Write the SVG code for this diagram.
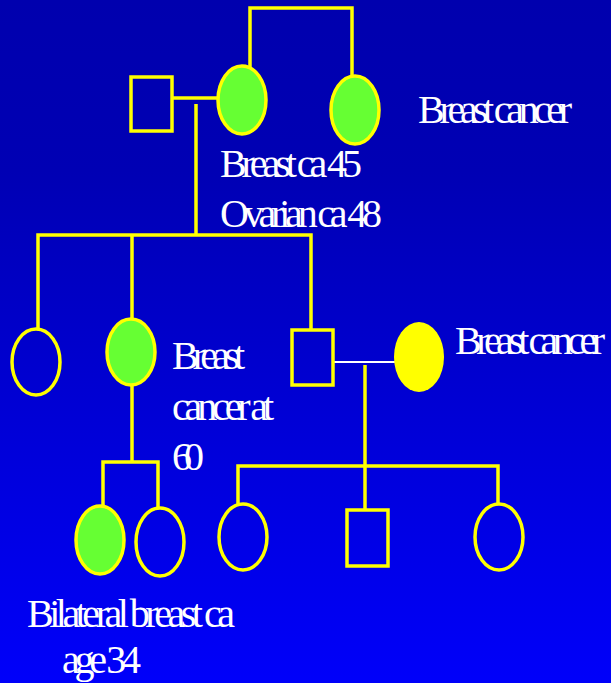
<svg xmlns="http://www.w3.org/2000/svg" width="611" height="683" viewBox="0 0 611 683">
<defs>
<linearGradient id="bg" x1="0" y1="0" x2="0" y2="1">
<stop offset="0" stop-color="#0000ae"/>
<stop offset="0.25" stop-color="#0000b4"/>
<stop offset="1" stop-color="#0000fa"/>
</linearGradient>
<style>
.ln{stroke:#ffff00;stroke-width:3.5;fill:none}
.wl{stroke:#ffffff;stroke-width:2;fill:none}
.sq{fill:none;stroke:#ffff00;stroke-width:3.5}
.el{fill:none;stroke:#ffff00;stroke-width:3.5}
.aff{fill:#66ff33;stroke:#ffff00;stroke-width:3.5}
.yel{fill:#ffff00;stroke:none}
.t{font-family:"Liberation Serif","Times New Roman",serif;font-size:40px;fill:#ffffff}
</style>
</defs>
<rect x="0" y="0" width="611" height="683" fill="url(#bg)"/>
<g id="connectors">
<path class="ln" d="M250,70 V8 H352 V75"/>
<path class="ln" d="M172,98 H219"/>
<path class="ln" d="M196,104 V235"/>
<path class="ln" d="M38,329 V235 H311 V329"/>
<path class="ln" d="M132,235 V330"/>
<path class="wl" d="M333,362 H396"/>
<path class="ln" d="M365,365 V466"/>
<path class="ln" d="M132,386 V462"/>
<path class="ln" d="M103,507 V462 H158 V509"/>
<path class="ln" d="M238,505 V466 H498 V505"/>
<path class="ln" d="M365,466 V509"/>
</g>
<g id="gf"><rect class="sq" x="131" y="77" width="41" height="54"/></g>
<g id="gm"><ellipse class="aff" cx="242" cy="100" rx="24" ry="34"/>
<text class="t" x="220" y="177" textLength="142" lengthAdjust="spacing">Breast ca 45</text>
<text class="t" x="220" y="227" textLength="162" lengthAdjust="spacing">Ovarian ca 48</text></g>
<g id="gaunt"><ellipse class="aff" cx="355" cy="110" rx="24" ry="34"/>
<text class="t" x="418" y="123" textLength="154" lengthAdjust="spacing">Breast cancer</text></g>
<g id="aunt1"><ellipse class="el" cx="36" cy="362" rx="24" ry="33"/></g>
<g id="mother"><ellipse class="aff" cx="131" cy="352" rx="24" ry="33"/>
<text class="t" x="172" y="369" textLength="73" lengthAdjust="spacing">Breast</text>
<text class="t" x="172" y="420" textLength="102" lengthAdjust="spacing">cancer at</text>
<text class="t" x="172" y="470" textLength="32" lengthAdjust="spacing">60</text></g>
<g id="uncle"><rect class="sq" x="292" y="330" width="41" height="55"/></g>
<g id="uncle-wife"><ellipse class="yel" cx="419" cy="357" rx="25" ry="35"/>
<text class="t" x="455" y="354" textLength="150" lengthAdjust="spacing">Breast cancer</text></g>
<g id="proband"><ellipse class="aff" cx="100" cy="540" rx="24" ry="34"/>
<text class="t" x="27" y="627" textLength="208" lengthAdjust="spacing">Bilateral breast ca</text>
<text class="t" x="62" y="673" textLength="79" lengthAdjust="spacing">age 34</text></g>
<g id="sister"><ellipse class="el" cx="160" cy="542" rx="24" ry="34"/></g>
<g id="cousin1"><ellipse class="el" cx="243" cy="537" rx="24" ry="33"/></g>
<g id="cousin2"><rect class="sq" x="347" y="510" width="41" height="56"/></g>
<g id="cousin3"><ellipse class="el" cx="499" cy="537" rx="24" ry="33"/></g>
</svg>
